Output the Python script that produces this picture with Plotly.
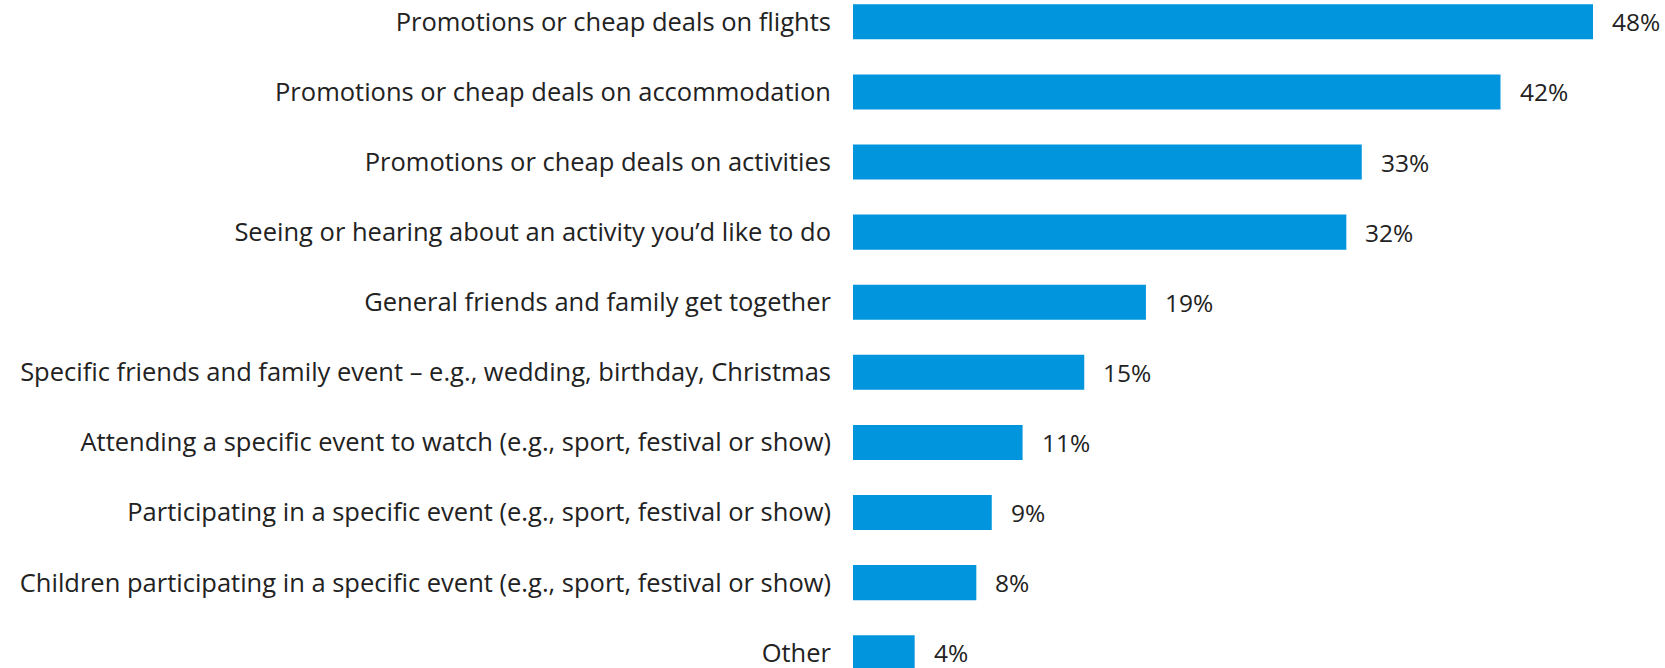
import plotly.graph_objects as go

categories = [
    "Promotions or cheap deals on flights",
    "Promotions or cheap deals on accommodation",
    "Promotions or cheap deals on activities",
    "Seeing or hearing about an activity you\u2019d like to do",
    "General friends and family get together",
    "Specific friends and family event \u2013 e.g., wedding, birthday, Christmas",
    "Attending a specific event to watch (e.g., sport, festival or show)",
    "Participating in a specific event (e.g., sport, festival or show)",
    "Children participating in a specific event (e.g., sport, festival or show)",
    "Other",
]
values = [48, 42, 33, 32, 19, 15, 11, 9, 8, 4]
value_labels = [f"{v}%" for v in values]

BAR_COLOR = "#0095DD"
TEXT_COLOR = "#222222"
FONT = "'Open Sans', Lato, sans-serif"
LABEL_SIZE = 25.5
VALUE_SIZE = 24.5

fig = go.Figure(
    go.Bar(
        x=values,
        y=categories,
        orientation="h",
        width=0.5,
        marker=dict(color=BAR_COLOR, line=dict(width=0)),
        hoverinfo="skip",
    )
)

# Percentage labels sit a little to the right of each bar end
for cat, v, lab in zip(categories, values, value_labels):
    fig.add_annotation(
        x=v,
        y=cat,
        text=lab,
        showarrow=False,
        xanchor="left",
        yanchor="middle",
        xshift=17,
        font=dict(family=FONT, size=VALUE_SIZE, color=TEXT_COLOR),
    )

fig.update_layout(
    width=1665,
    height=668,
    margin=dict(l=853, r=0, t=0, b=0),
    paper_bgcolor="white",
    plot_bgcolor="white",
    showlegend=False,
    xaxis=dict(
        range=[0, 52.67],
        visible=False,
        showgrid=False,
        zeroline=False,
    ),
    yaxis=dict(
        type="category",
        categoryorder="array",
        categoryarray=categories,
        range=[9.218, -0.311],
        showgrid=False,
        zeroline=False,
        showline=False,
        ticks="",
        ticklabelstandoff=21,
        tickfont=dict(family=FONT, size=LABEL_SIZE, color=TEXT_COLOR),
    ),
)

fig.write_html("out.html")
